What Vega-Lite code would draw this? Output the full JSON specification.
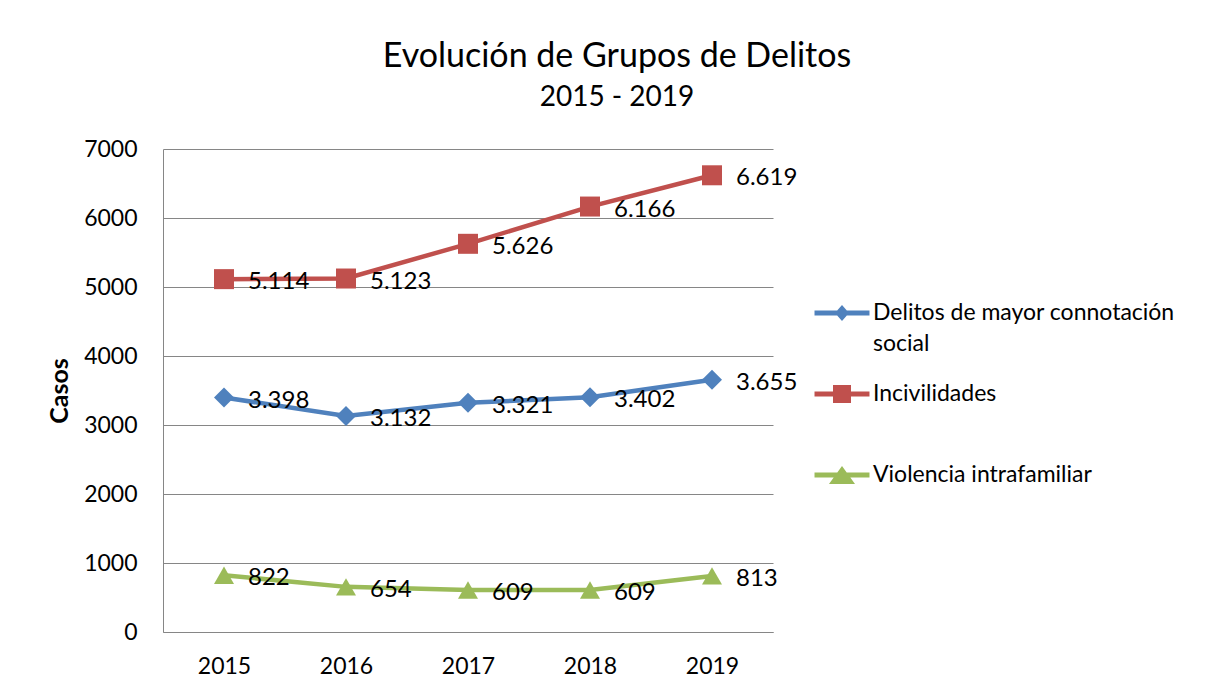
{
  "$schema": "https://vega.github.io/schema/vega-lite/v6.json",
  "width": 610,
  "height": 483,
  "autosize": {"type": "none"},
  "padding": {"left": 163, "top": 149, "right": 438, "bottom": 61},
  "background": "white",
  "config": {
    "locale": {"number": {"decimal": ",", "thousands": ".", "grouping": [3], "currency": ["", " €"]}},
    "view": {"stroke": null},
    "font": "Lato"
  },
  "title": {
    "text": "Evolución de Grupos de Delitos",
    "subtitle": "2015 - 2019",
    "anchor": "middle",
    "dx": 149,
    "offset": 26,
    "font": "Lato",
    "fontSize": 34,
    "fontWeight": "normal",
    "color": "#000000",
    "subtitleFont": "Lato",
    "subtitleFontSize": 28,
    "subtitleColor": "#000000",
    "subtitlePadding": 10
  },
  "data": {
    "values": [
      {"year": "2015", "series": "Delitos de mayor connotación social", "value": 3398},
      {"year": "2016", "series": "Delitos de mayor connotación social", "value": 3132},
      {"year": "2017", "series": "Delitos de mayor connotación social", "value": 3321},
      {"year": "2018", "series": "Delitos de mayor connotación social", "value": 3402},
      {"year": "2019", "series": "Delitos de mayor connotación social", "value": 3655},
      {"year": "2015", "series": "Incivilidades", "value": 5114},
      {"year": "2016", "series": "Incivilidades", "value": 5123},
      {"year": "2017", "series": "Incivilidades", "value": 5626},
      {"year": "2018", "series": "Incivilidades", "value": 6166},
      {"year": "2019", "series": "Incivilidades", "value": 6619},
      {"year": "2015", "series": "Violencia intrafamiliar", "value": 822},
      {"year": "2016", "series": "Violencia intrafamiliar", "value": 654},
      {"year": "2017", "series": "Violencia intrafamiliar", "value": 609},
      {"year": "2018", "series": "Violencia intrafamiliar", "value": 609},
      {"year": "2019", "series": "Violencia intrafamiliar", "value": 813}
    ]
  },
  "encoding": {
    "x": {
      "field": "year",
      "type": "ordinal",
      "scale": {"type": "point", "padding": 0.5},
      "axis": {
        "title": null,
        "labelAngle": 0,
        "ticks": false,
        "labelPadding": 23,
        "labelFont": "Lato",
        "labelFontSize": 23,
        "labelColor": "#000000",
        "domainColor": "#868686",
        "domainWidth": 1,
        "grid": false
      }
    },
    "y": {
      "field": "value",
      "type": "quantitative",
      "scale": {"domain": [0, 7000], "nice": false},
      "axis": {
        "title": "Casos",
        "titleFont": "Lato",
        "titleFontSize": 25,
        "titleFontWeight": "bold",
        "titleColor": "#000000",
        "titlePadding": 11,
        "values": [0, 1000, 2000, 3000, 4000, 5000, 6000, 7000],
        "format": "d",
        "ticks": false,
        "labelPadding": 26,
        "labelFont": "Lato",
        "labelFontSize": 23,
        "labelColor": "#000000",
        "domainColor": "#868686",
        "domainWidth": 1,
        "grid": true,
        "gridColor": "#868686",
        "gridWidth": 1
      }
    },
    "color": {
      "field": "series",
      "type": "nominal",
      "scale": {
        "domain": ["Delitos de mayor connotación social", "Incivilidades", "Violencia intrafamiliar"],
        "range": ["#4F81BD", "#C0504D", "#9BBB59"]
      },
      "legend": {
        "title": null,
        "orient": "none",
        "legendX": 641.5,
        "legendY": 126.5,
        "symbolSize": 5625,
        "symbolStrokeWidth": 0,
        "symbolOpacity": 1,
        "labelOffset": -6.5,
        "labelFont": "Lato",
        "labelFontSize": 23,
        "labelColor": "#000000",
        "labelLimit": 500,
        "gridAlign": "all",
        "rowPadding": 0,
        "labelExpr": "datum.label === 'Delitos de mayor connotación social' ? ['Delitos de mayor connotación', 'social'] : datum.label",
        "encode": {
          "symbols": {
            "update": {
              "shape": {"signal": "datum.value === 'Incivilidades' ? 'M-0.733,-0.067H0.733V0.067H-0.733Z M-0.24,-0.24H0.24V0.24H-0.24Z' : datum.value === 'Violencia intrafamiliar' ? 'M-0.733,-0.067H0.733V0.067H-0.733Z M0,-0.24L0.347,0.24H-0.347Z' : 'M-0.733,-0.067H0.733V0.067H-0.733Z M0,-0.213L0.187,0L0,0.213L-0.187,0Z'"},
              "strokeWidth": {"value": 0},
              "opacity": {"value": 1}
            }
          },
          "labels": {
            "update": {
              "lineHeight": {"value": 31}
            }
          }
        }
      }
    }
  },
  "layer": [
    {
      "mark": {"type": "line", "strokeWidth": 4.5}
    },
    {
      "mark": {"type": "point", "filled": true, "size": 400, "opacity": 1},
      "encoding": {
        "shape": {
          "field": "series",
          "type": "nominal",
          "scale": {
            "range": ["diamond", "square", "triangle-up"]
          },
          "legend": null
        }
      }
    },
    {
      "mark": {"type": "text", "align": "left", "baseline": "middle", "dx": 24, "dy": 3, "font": "Lato", "fontSize": 24},
      "encoding": {
        "text": {"field": "value", "type": "quantitative", "format": ",d"},
        "color": {"value": "#000000"}
      }
    }
  ]
}
